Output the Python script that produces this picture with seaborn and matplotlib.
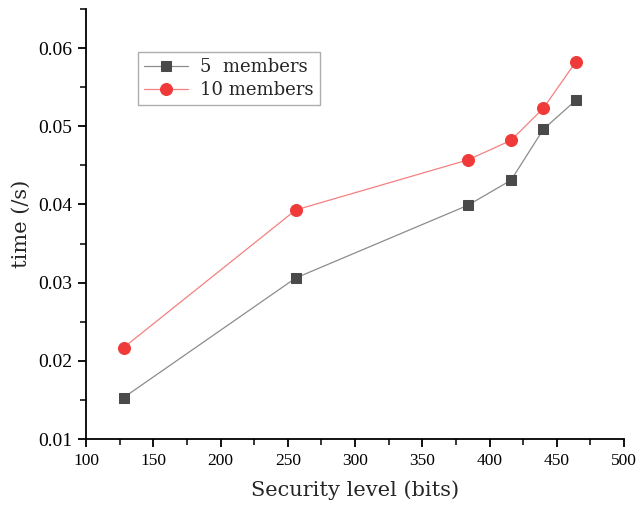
import matplotlib
matplotlib.use("Agg")
import matplotlib.pyplot as plt
from matplotlib.ticker import MultipleLocator
import seaborn as sns
import pandas as pd

security_bits = [128, 256, 384, 416, 440, 464]
time_5_members = [0.0153, 0.0306, 0.0399, 0.0431, 0.0496, 0.0533]
time_10_members = [0.0217, 0.0393, 0.0457, 0.0482, 0.0523, 0.0582]
series_labels = ["5  members", "10 members"]

df = pd.DataFrame({
    "bits": security_bits * 2,
    "time": time_5_members + time_10_members,
    "series": [series_labels[0]] * len(security_bits) + [series_labels[1]] * len(security_bits),
})

sns.set_style("ticks")
plt.rcParams["font.family"] = ["DejaVu Serif", "DejaVu Sans"]

fig = plt.figure(figsize=(6.37, 5.08), dpi=100)
ax = fig.add_axes([86 / 637, 1 - 439 / 508, (624 - 86) / 637, (439 - 9) / 508])

palette = {series_labels[0]: "#4a4a4a", series_labels[1]: "#f03a3a"}
line_colors = {series_labels[0]: "#8c8c8c", series_labels[1]: "#f58080"}

sns.lineplot(data=df, x="bits", y="time", hue="series", style="series",
             markers={series_labels[0]: "s", series_labels[1]: "o"},
             dashes=False, palette=palette, linewidth=0.9, ax=ax, legend=False)

for line, lab in zip(ax.get_lines(), series_labels):
    line.set_color(line_colors[lab])
    line.set_markerfacecolor(palette[lab])
    line.set_markeredgecolor(palette[lab])
    line.set_markersize(7.2 if lab == series_labels[0] else 8.6)
    line.set_label(lab)

ax.set_xlim(100, 500)
ax.set_ylim(0.01, 0.065)
ax.xaxis.set_major_locator(MultipleLocator(50))
ax.xaxis.set_minor_locator(MultipleLocator(25))
ax.set_yticks([0.01, 0.02, 0.03, 0.04, 0.05, 0.06])
ax.yaxis.set_minor_locator(MultipleLocator(0.005))
ax.tick_params(which="major", direction="out", length=6, width=1.3, colors="black", pad=4)
ax.tick_params(axis="x", which="major", labelsize=12.5)
ax.tick_params(axis="y", which="major", labelsize=14)
ax.tick_params(which="minor", direction="out", length=4, width=1.3)
for lbl in ax.get_xticklabels() + ax.get_yticklabels():
    lbl.set_fontfamily(["Liberation Serif", "DejaVu Serif"])
for s in ["left", "bottom"]:
    ax.spines[s].set_linewidth(1.3)
    ax.spines[s].set_color("black")
for s in ["top", "right"]:
    ax.spines[s].set_visible(False)

ax.set_xlabel("Security level (bits)", fontsize=15, labelpad=8)
ax.set_ylabel("time (/s)", fontsize=15, labelpad=5)

leg = ax.legend(loc="upper left", bbox_to_anchor=((138 - 86) / 538, (439 - 52) / 430),
                borderaxespad=0, fontsize=13,
                frameon=True, fancybox=False, edgecolor="#999999",
                handlelength=2.4, borderpad=0.35, labelspacing=0.25, handletextpad=0.7)
leg.get_frame().set_linewidth(1.0)

fig.savefig("out.png", dpi=100)
